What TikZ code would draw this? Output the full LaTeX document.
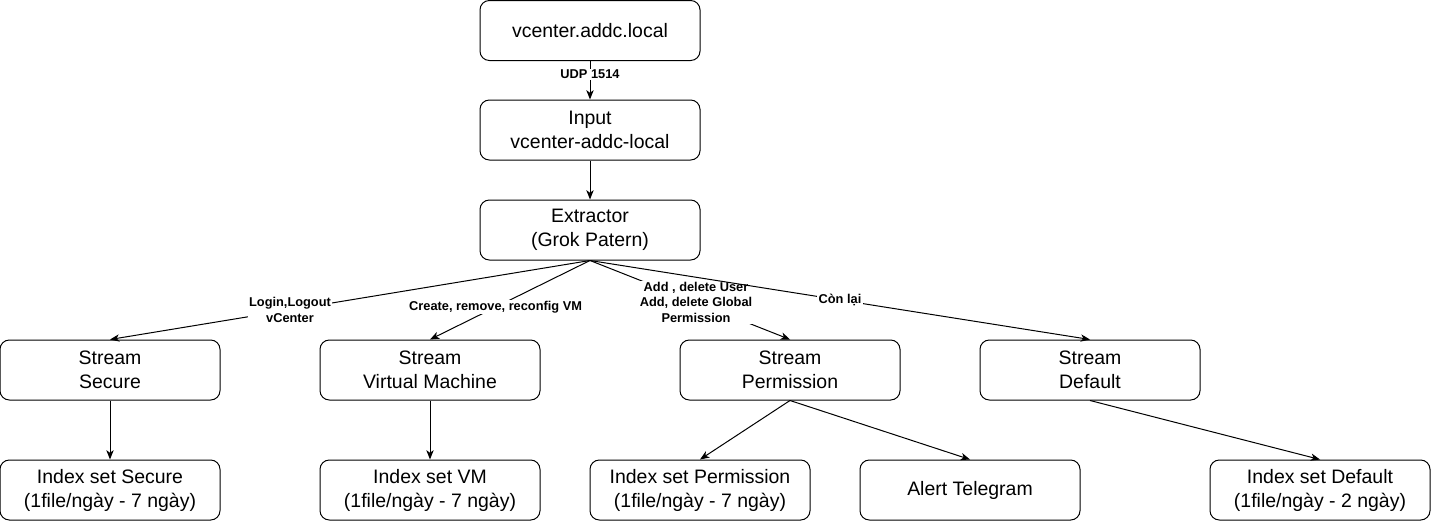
\documentclass[tikz,border=0pt]{standalone}
\usepackage{fontspec}
\setmainfont{Liberation Sans}
\usetikzlibrary{arrows.meta}
\begin{document}
\begin{tikzpicture}[x=0.75pt,y=-0.75pt,
 box/.style={draw,rounded corners=7pt,minimum width=165pt,minimum height=45pt,align=center,font=\fontsize{14.6}{18}\selectfont,inner sep=0pt,line width=0.75pt},
 conn/.style={-{Stealth[length=7pt,width=5.5pt,inset=2pt]},line width=0.75pt},
 lbl/.style={fill=white,inner sep=1pt,align=center,font=\fontsize{9.6}{11.5}\selectfont\bfseries}]
\useasboundingbox (0,0) rectangle (1431,521);
\node[box] (vc) at (590,30.5) {vcenter.addc.local};
\node[box] (in) at (590,130) {Input\\vcenter-addc-local};
\node[box] (ex) at (590,230) {Extractor\\(Grok Patern)};
\node[box] (ss) at (110,370) {Stream\\Secure};
\node[box] (sv) at (430,370) {Stream\\Virtual Machine};
\node[box] (sp) at (790,370) {Stream\\Permission};
\node[box] (sd) at (1090,370) {Stream\\Default};
\node[box] (is) at (110,490) {Index set Secure\\(1file/ngày - 7 ngày)};
\node[box] (iv) at (430,490) {Index set VM\\(1file/ngày - 7 ngày)};
\node[box] (ip) at (700,490) {Index set Permission\\(1file/ngày - 7 ngày)};
\node[box] (at) at (970,490) {Alert Telegram};
\node[box] (id) at (1320,490) {Index set Default\\(1file/ngày - 2 ngày)};
\draw[conn] (vc) -- node[lbl,pos=0.35]{UDP 1514} (in);
\draw[conn] (in) -- (ex);
\draw[conn] (ex.south) -- node[lbl,pos=0.625]{Login,Logout\\vCenter} (ss.north);
\draw[conn] (ex.south) -- node[lbl,pos=0.59]{Create, remove, reconfig VM} (sv.north);
\draw[conn] (ex.south) -- node[lbl,pos=0.53]{Add , delete User\\Add, delete Global\\Permission} (sp.north);
\draw[conn] (ex.south) -- node[lbl,pos=0.5]{Còn lại} (sd.north);
\draw[conn] (ss) -- (is);
\draw[conn] (sv) -- (iv);
\draw[conn] (sp.south) -- (ip.north);
\draw[conn] (sp.south) -- (at.north);
\draw[conn] (sd.south) -- (id.north);
\end{tikzpicture}
\end{document}
